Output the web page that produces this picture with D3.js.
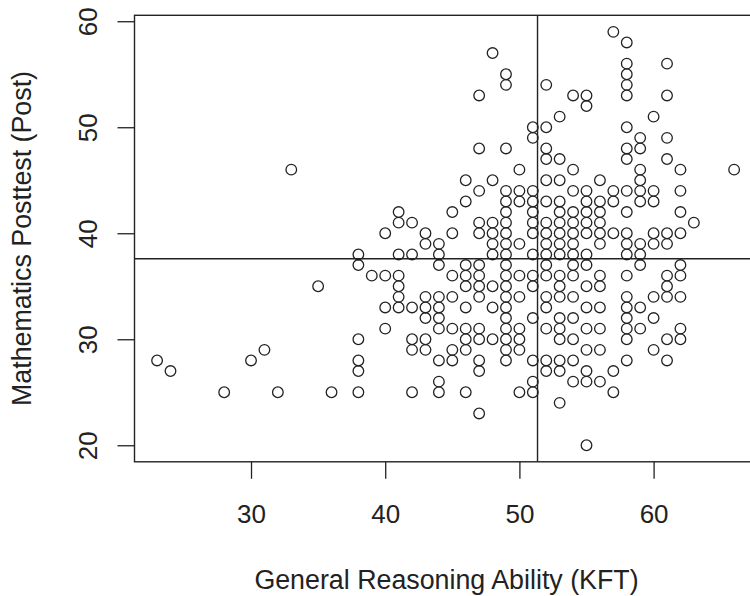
<!DOCTYPE html>
<html><head><meta charset="utf-8">
<style>html,body{margin:0;padding:0;background:#fff;overflow:hidden}svg{display:block}
text{font-family:"Liberation Sans",Arial,sans-serif;fill:#222}</style>
<script src="https://cdn.jsdelivr.net/npm/d3@7"></script></head><body><svg id="c" width="750" height="596"></svg>
<script>
const xTickValues=[30,40,50,60];
const yTickValues=[20,30,40,50,60];
const xTitle="General Reasoning Ability (KFT)";
const yTitle="Mathematics Posttest (Post)";
const meanKFT=51.35;
const meanPost=37.6;
const postLevels=[59,58,57,56,55,54,53,52,51,50,49,48,47,46,45,44,43,42,41,40,39,38,37,36,35,34,33,32,31,30,29,28,27,26,25,24,23,20];
const kftByLevel=[
[57],[58],[48],[58,61],[49,58],[49,52,58],[47,54,55,58,61],[55],[53,60],[51,52,58],[51,59,61],
[47,49,52,58,59],[52,53,58,61],[33,50,54,59,62,66],[46,48,52,53,56,59],
[47,49,50,51,54,55,57,58,59,60,62],
[46,49,50,51,52,53,55,56,57,59,60],
[41,45,49,51,53,54,55,56,58,62],
[41,42,47,48,49,51,52,53,54,55,56,63],
[40,43,45,47,48,49,51,52,53,54,55,56,57,58,60,61,62],
[43,44,48,49,50,52,53,54,56,58,59,60,61],
[38,41,42,44,48,49,51,52,53,54,55,58,59],
[38,44,46,47,49,52,54,55,59,62],
[39,40,41,45,46,47,49,50,51,52,53,54,56,58,61,62],
[35,41,46,47,48,49,51,53,55,56,61],
[41,43,44,45,47,49,50,52,53,54,58,60,61,62],
[40,41,42,43,44,46,48,49,52,55,56,58,59],
[43,44,49,51,53,54,58,60],
[40,44,45,46,47,49,50,52,53,55,56,58,59,62],
[38,42,43,46,47,48,49,50,53,54,58,61,62],
[31,42,43,45,46,49,50,55,56,60],
[23,30,38,44,45,47,49,51,52,53,54,58,61],
[24,38,47,52,53,55,57],
[44,51,54,55,56],
[28,32,36,38,42,44,46,50,51,57],
[53],[47],[55]];
const ink="#222";
const x=d3.scaleLinear().domain([21.28,67.72]).range([134,757.2]);
const y=d3.scaleLinear().domain([18.44,60.56]).range([461.8,15.3]);
const svg=d3.select("#c");
const points=postLevels.flatMap((p,i)=>kftByLevel[i].map(k=>({k,p})));
svg.append("g").selectAll("circle").data(points).join("circle")
 .attr("cx",d=>x(d.k)).attr("cy",d=>y(d.p)).attr("r",5.3)
 .attr("fill","none").attr("stroke",ink).attr("stroke-width",1.3);
svg.append("line").attr("x1",x(meanKFT)).attr("x2",x(meanKFT)).attr("y1",y.range()[0]).attr("y2",y.range()[1]).attr("stroke",ink).attr("stroke-width",1.4);
svg.append("line").attr("x1",x.range()[0]).attr("x2",x.range()[1]).attr("y1",y(meanPost)).attr("y2",y(meanPost)).attr("stroke",ink).attr("stroke-width",1.4);
svg.append("rect").attr("x",x.range()[0]+0.5).attr("y",y.range()[1]).attr("width",x.range()[1]-x.range()[0]).attr("height",y.range()[0]-y.range()[1]).attr("fill","none").attr("stroke",ink).attr("stroke-width",1.4);
const gx=svg.append("g").attr("transform",`translate(0,${y.range()[0]})`).call(d3.axisBottom(x).tickValues(xTickValues).tickSize(17).tickPadding(9).tickFormat(d3.format("d")));
const gy=svg.append("g").attr("transform",`translate(${x.range()[0]+0.5},0)`).call(d3.axisLeft(y).tickValues(yTickValues).tickSize(17).tickPadding(0).tickFormat(d3.format("d")));
gx.select(".domain").remove();gy.select(".domain").remove();
svg.selectAll(".tick line").attr("stroke",ink).attr("stroke-width",1.3);
gx.selectAll("text").attr("font-size",26).attr("fill",ink).attr("dy",0).attr("y",61);
gy.selectAll("text").attr("font-size",26).attr("fill",ink).attr("text-anchor","middle").attr("dy",0)
 .attr("x",0).attr("y",0).attr("transform","translate(-38,0) rotate(-90)");
svg.append("text").attr("x",446.5).attr("y",589).attr("text-anchor","middle").attr("font-size",26.8).text(xTitle);
svg.append("text").attr("transform","translate(31,238.5) rotate(-90)").attr("text-anchor","middle").attr("font-size",26.8).text(yTitle);
</script></body></html>
